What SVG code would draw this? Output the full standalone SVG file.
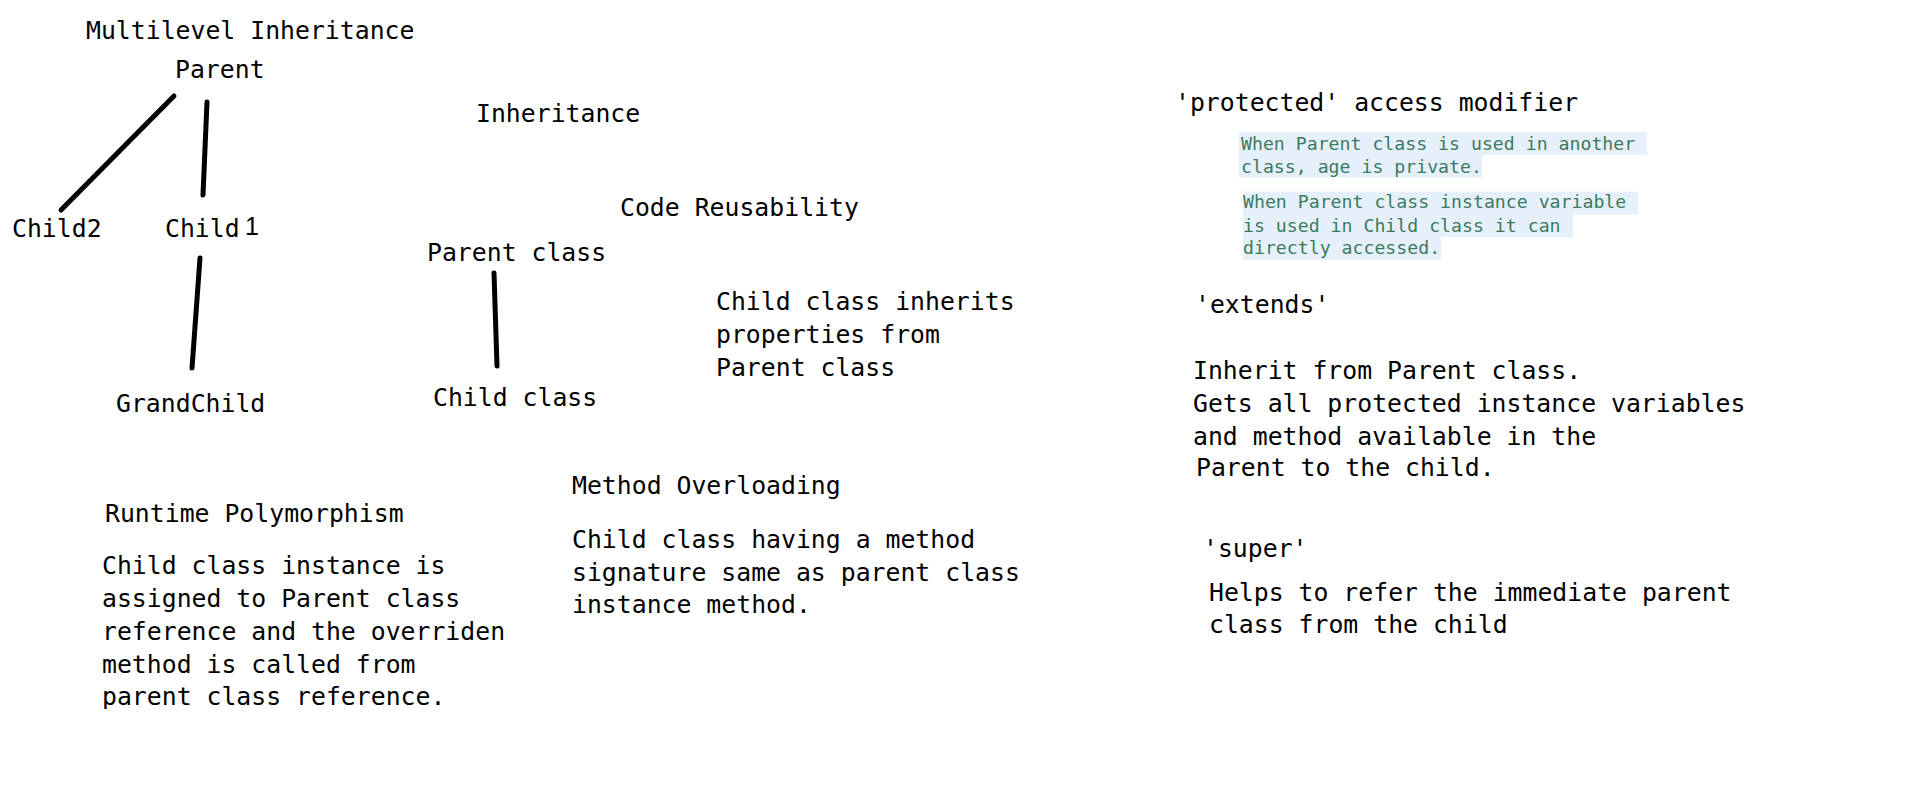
<svg xmlns="http://www.w3.org/2000/svg" width="1914" height="796" viewBox="0 0 1914 796">
<style>
text{font-family:"DejaVu Sans Mono","Liberation Mono",monospace;fill:#000;}
.t{font-size:24.8px;}
.s{font-size:18.2px;fill:#3b7a5e;}
.hl{fill:#e6f0fb;}
.edge{stroke:#000;stroke-width:5;stroke-linecap:round;fill:none;}
</style>
<defs>
<clipPath id="cut"><rect x="0" y="0" width="1914" height="709"/></clipPath>
</defs>
<rect width="1914" height="796" fill="#fff"/>
<g id="connectors">
<line class="edge" x1="174" y1="96" x2="61" y2="210"/>
<line class="edge" x1="207" y1="102" x2="203" y2="195"/>
<line class="edge" x1="200" y1="258" x2="192" y2="368"/>
<line class="edge" x1="494" y1="273" x2="497" y2="366"/>
</g>
<g id="title-multilevel"><text class="t" x="86" y="39">Multilevel Inheritance</text></g>
<g id="node-parent"><text class="t" x="175" y="78">Parent</text></g>
<g id="node-child2"><text class="t" x="12" y="237">Child2</text></g>
<g id="node-child1"><text class="t" x="165" y="237">Child</text><text x="245" y="235" style="font-family:'Liberation Sans',Arial,sans-serif;font-size:25px">1</text></g>
<g id="node-grandchild"><text class="t" x="116" y="412">GrandChild</text></g>
<g id="title-inheritance"><text class="t" x="476" y="122">Inheritance</text></g>
<g id="title-code-reuse"><text class="t" x="620" y="216">Code Reusability</text></g>
<g id="node-parent-class"><text class="t" x="427" y="261">Parent class</text></g>
<g id="node-child-class"><text class="t" x="433" y="406">Child class</text></g>
<g id="note-inherits">
<text class="t" x="716" y="310">Child class inherits</text>
<text class="t" x="716" y="343">properties from</text>
<text class="t" x="716" y="376">Parent class</text>
</g>
<g id="note-runtime">
<text class="t" x="105" y="522">Runtime Polymorphism</text>
<g clip-path="url(#cut)">
<text class="t" x="102" y="574">Child class instance is</text>
<text class="t" x="102" y="607">assigned to Parent class</text>
<text class="t" x="102" y="640">reference and the overriden</text>
<text class="t" x="102" y="673">method is called from</text>
<text class="t" x="102" y="705">parent class reference.</text>
</g>
</g>
<g id="note-overloading">
<text class="t" x="572" y="494">Method Overloading</text>
<text class="t" x="572" y="548">Child class having a method</text>
<text class="t" x="572" y="581">signature same as parent class</text>
<text class="t" x="572" y="613">instance method.</text>
</g>
<g id="note-protected">
<text class="t" x="1175" y="111">'protected' access modifier</text>
<rect class="hl" x="1239" y="132" width="408" height="23"/>
<rect class="hl" x="1239" y="154.5" width="243" height="23"/>
<text class="s" x="1241" y="150">When Parent class is used in another</text>
<text class="s" x="1241" y="172.5">class, age is private.</text>
<rect class="hl" x="1243" y="191.5" width="395" height="23"/>
<rect class="hl" x="1243" y="214" width="330" height="23"/>
<rect class="hl" x="1243" y="236.5" width="198" height="23.5"/>
<text class="s" x="1243" y="208">When Parent class instance variable</text>
<text class="s" x="1243" y="231.5">is used in Child class it can</text>
<text class="s" x="1243" y="254">directly accessed.</text>
</g>
<g id="note-extends">
<text class="t" x="1195" y="313">'extends'</text>
<text class="t" x="1193" y="379">Inherit from Parent class.</text>
<text class="t" x="1193" y="412">Gets all protected instance variables</text>
<text class="t" x="1193" y="445">and method available in the</text>
<text class="t" x="1196" y="476">Parent to the child.</text>
</g>
<g id="note-super">
<text class="t" x="1203" y="557">'super'</text>
<text class="t" x="1209" y="601">Helps to refer the immediate parent</text>
<text class="t" x="1209" y="633">class from the child</text>
</g>
</svg>
